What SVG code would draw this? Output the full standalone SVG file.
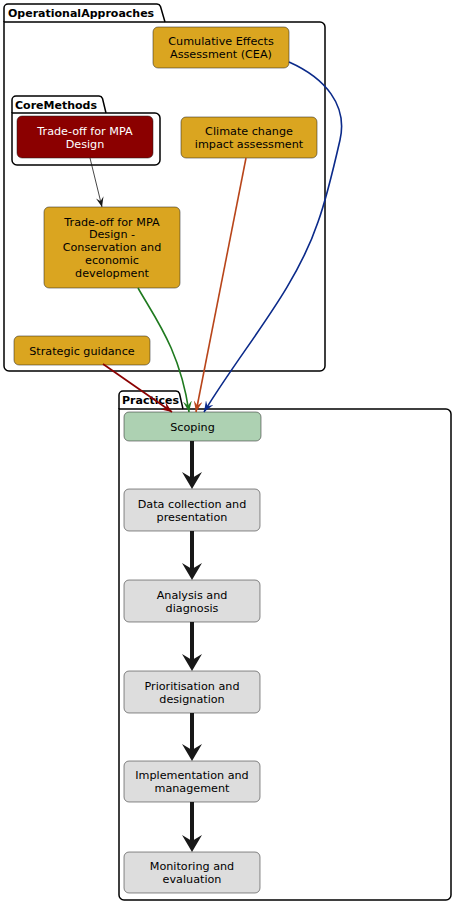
<svg xmlns="http://www.w3.org/2000/svg" width="456" height="904" viewBox="0 0 456 904">
<style>
.pkg{fill:none;stroke:#000;stroke-width:1.5}
.pkgt{font-family:"DejaVu Sans",sans-serif;font-size:11px;font-weight:bold;fill:#000}
.node{stroke:#181818;stroke-width:0.5}
.gold{fill:#DAA520}
.grey{fill:#DDDDDD}
.t{font-family:"DejaVu Sans",sans-serif;font-size:11.2px;fill:#000;text-anchor:middle}
.tw{fill:#FFFFFF}
.thick{stroke:#181818;stroke-width:4;fill:none}
.head{fill:#181818}
</style>
<defs>
<marker id="aBlack" viewBox="0 0 10 8" refX="10" refY="4" markerWidth="10" markerHeight="8" markerUnits="userSpaceOnUse" orient="auto"><path d="M0,0 L10,4 L0,8 L4,4 Z" fill="#181818"/></marker>
<marker id="aRed" viewBox="0 0 10 8" refX="10" refY="4" markerWidth="11" markerHeight="9" markerUnits="userSpaceOnUse" orient="auto"><path d="M0,0 L10,4 L0,8 L4,4 Z" fill="#8B0000"/></marker>
<marker id="aGreen" viewBox="0 0 10 8" refX="10" refY="4" markerWidth="11" markerHeight="9" markerUnits="userSpaceOnUse" orient="auto"><path d="M0,0 L10,4 L0,8 L4,4 Z" fill="#1F7A1F"/></marker>
<marker id="aOrange" viewBox="0 0 10 8" refX="10" refY="4" markerWidth="11" markerHeight="9" markerUnits="userSpaceOnUse" orient="auto"><path d="M0,0 L10,4 L0,8 L4,4 Z" fill="#B8451A"/></marker>
<marker id="aBlue" viewBox="0 0 10 8" refX="10" refY="4" markerWidth="11" markerHeight="9" markerUnits="userSpaceOnUse" orient="auto"><path d="M0,0 L10,4 L0,8 L4,4 Z" fill="#0B2A8A"/></marker>
</defs>

<g id="pkg-OperationalApproaches">
<path class="pkg" d="M4,22 V8 A4,4 0 0 1 8,4 H157 A4,4 0 0 1 160.5,6.5 L165,22"/>
<path class="pkg" d="M4,22 H320 A5,5 0 0 1 325,27 V366 A5,5 0 0 1 320,371 H9 A5,5 0 0 1 4,366 Z"/>
<text class="pkgt" x="8" y="17">OperationalApproaches</text>
</g>

<g id="pkg-CoreMethods">
<path class="pkg" d="M12,113 V100 A4,4 0 0 1 16,96 H99 A4,4 0 0 1 102.5,98.5 L106,113"/>
<path class="pkg" d="M12,113 H155 A5,5 0 0 1 160,118 V160 A5,5 0 0 1 155,165 H17 A5,5 0 0 1 12,160 Z"/>
<text class="pkgt" x="15" y="109">CoreMethods</text>
</g>

<g id="pkg-Practices">
<path class="pkg" d="M119,409 V395 A4,4 0 0 1 123,391 H176 A4,4 0 0 1 179.5,393.5 L183,409"/>
<path class="pkg" d="M119,409 H446 A5,5 0 0 1 451,414 V895 A5,5 0 0 1 446,900 H124 A5,5 0 0 1 119,895 Z"/>
<text class="pkgt" x="122" y="404">Practices</text>
</g>

<g id="node-CEA">
<rect class="node gold" x="153" y="27" width="136" height="41" rx="5"/>
<text class="t" x="221" y="45">Cumulative Effects</text>
<text class="t" x="221" y="58">Assessment (CEA)</text>
</g>

<g id="node-TradeoffCore">
<rect class="node" fill="#8B0000" x="17" y="116" width="136" height="42" rx="5"/>
<text class="t tw" x="85" y="134.5">Trade-off for MPA</text>
<text class="t tw" x="85" y="147.5">Design</text>
</g>

<g id="node-Climate">
<rect class="node gold" x="181" y="117" width="136" height="41" rx="5"/>
<text class="t" x="249" y="135">Climate change</text>
<text class="t" x="249" y="148">impact assessment</text>
</g>

<g id="node-TradeoffConservation">
<rect class="node gold" x="44" y="207" width="136" height="81" rx="5"/>
<text class="t" x="112" y="225.5">Trade-off for MPA</text>
<text class="t" x="112" y="238.3">Design -</text>
<text class="t" x="112" y="251.1">Conservation and</text>
<text class="t" x="112" y="263.9">economic</text>
<text class="t" x="112" y="276.7">development</text>
</g>

<g id="node-Strategic">
<rect class="node gold" x="14" y="336" width="136" height="29" rx="5"/>
<text class="t" x="82" y="355">Strategic guidance</text>
</g>

<g id="node-Scoping">
<rect class="node" fill="#ADD1B2" x="124" y="412" width="137" height="29" rx="5"/>
<text class="t" x="192.5" y="431">Scoping</text>
</g>

<g id="node-DataCollection">
<rect class="node grey" x="124" y="489" width="136" height="42" rx="5"/>
<text class="t" x="192" y="507.5">Data collection and</text>
<text class="t" x="192" y="520.5">presentation</text>
</g>

<g id="node-Analysis">
<rect class="node grey" x="124" y="580" width="136" height="42" rx="5"/>
<text class="t" x="192" y="598.5">Analysis and</text>
<text class="t" x="192" y="611.5">diagnosis</text>
</g>

<g id="node-Prioritisation">
<rect class="node grey" x="124" y="671" width="136" height="42" rx="5"/>
<text class="t" x="192" y="689.5">Prioritisation and</text>
<text class="t" x="192" y="702.5">designation</text>
</g>

<g id="node-Implementation">
<rect class="node grey" x="124" y="761" width="136" height="41" rx="5"/>
<text class="t" x="192" y="779">Implementation and</text>
<text class="t" x="192" y="792">management</text>
</g>

<g id="node-Monitoring">
<rect class="node grey" x="124" y="852" width="136" height="41" rx="5"/>
<text class="t" x="192" y="870">Monitoring and</text>
<text class="t" x="192" y="883">evaluation</text>
</g>

<g id="connectors">
<path d="M90,158 L102,207" fill="none" stroke="#181818" stroke-width="0.8" marker-end="url(#aBlack)"/>
<path d="M103,364 L172,412" fill="none" stroke="#8B0000" stroke-width="1.6" marker-end="url(#aRed)"/>
<path d="M138,288 C155,318 180,350 189,412" fill="none" stroke="#1F7A1F" stroke-width="1.6" marker-end="url(#aGreen)"/>
<path d="M246,158 L196,412" fill="none" stroke="#B8451A" stroke-width="1.6" marker-end="url(#aOrange)"/>
<path d="M289,62 C325,78 348,105 340,140 C332,175 326,200 318,222 C295,290 245,345 204,412" fill="none" stroke="#0B2A8A" stroke-width="1.6" marker-end="url(#aBlue)"/>

<path class="thick" d="M192,441 V480"/>
<polygon class="head" points="192,489 182,472 192,478 202,472"/>
<path class="thick" d="M192,531 V571"/>
<polygon class="head" points="192,580 182,563 192,569 202,563"/>
<path class="thick" d="M192,622 V662"/>
<polygon class="head" points="192,671 182,654 192,660 202,654"/>
<path class="thick" d="M192,713 V752"/>
<polygon class="head" points="192,761 182,744 192,750 202,744"/>
<path class="thick" d="M192,802 V843"/>
<polygon class="head" points="192,852 182,835 192,841 202,835"/>
</g>
</svg>
